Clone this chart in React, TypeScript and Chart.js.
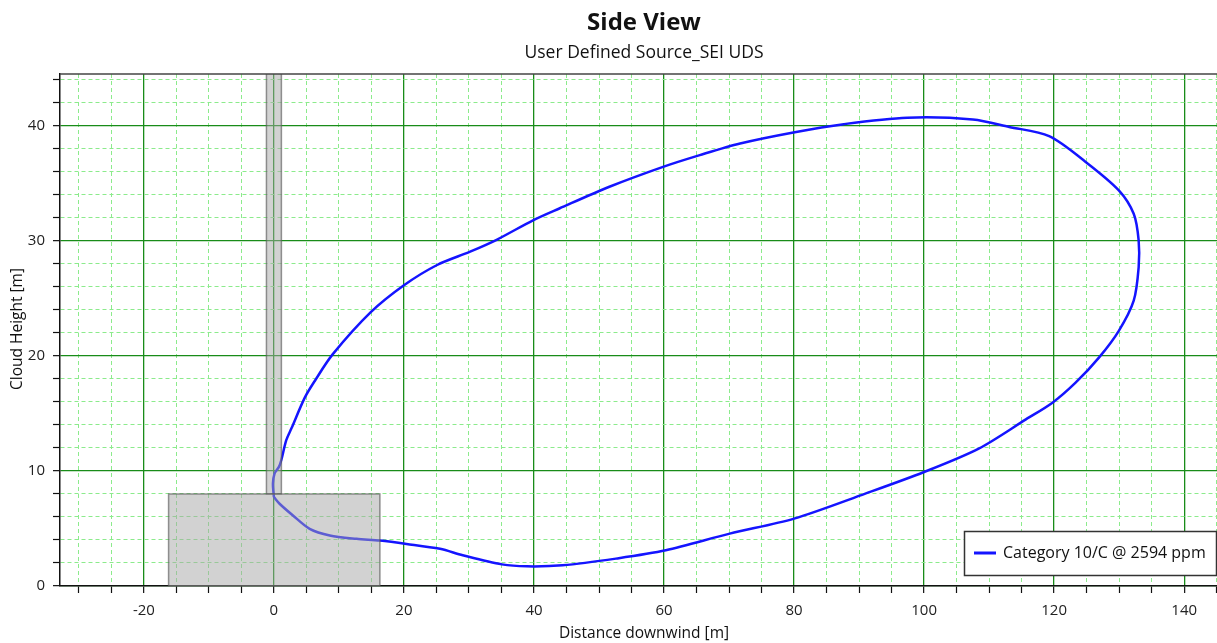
import React, { useEffect, useRef } from 'react';
import { Chart, registerables } from 'chart.js';

Chart.register(...registerables);

// ---- data ----
const plumeX = [
  0, 0.87, 2.93, 5.5, 8.59, 12.7, 16.3, 20.4, 25.55, 29.04, 35.07, 38.9, 44.38, 52.6, 60.27, 70.1, 80.0,
  90.96, 100, 108.4, 115.66, 119.74, 123.3, 126.89, 129.95, 132.24, 133.0, 133.0, 132.24, 129.95,
  124.85, 119.23, 113.1, 107.5, 97.4, 87.65, 79.9, 71.7, 65.5, 59.85, 51.6, 43.9, 39.85, 34.25, 30.18,
  25.1, 20, 14.9, 9.06, 6.26, 4.73, 2.7, 1.9, 1.13, 0.77, 0.1, -0.15, 0,
];
const plumeY = [
  7.73, 7.15, 6.13, 4.97, 4.39, 4.1, 3.95, 3.66, 3.23, 2.67, 1.88, 1.71, 1.8, 2.38, 3.1, 4.55, 5.86,
  8.03, 9.91, 11.94, 14.48, 15.93, 17.67, 19.85, 22.18, 24.8, 27.7, 30.03, 32.35, 34.39,
  36.86, 39.1, 39.9, 40.55, 40.7, 40.14, 39.42, 38.46, 37.45, 36.43, 34.7, 32.81, 31.78, 30.09, 29.06,
  27.9, 26.14, 23.8, 20.15, 17.8, 16.35, 13.7, 12.67, 10.93, 10.35, 9.77, 8.9, 7.73,
];
const stackX = [-1.15, 1.15];
const stackY = [8, 60];
const buildingX = [-16.2, 16.3];
const buildingY = [0, 8];
const xTickLabels = [-20, 0, 20, 40, 60, 80, 100, 120, 140];
const yTickLabels = [0, 10, 20, 30, 40];
const seriesLabel = 'Category 10/C @ 2594 ppm';
const chartTitle = 'Side View';
const chartSubtitle = 'User Defined Source_SEI UDS';
const xTitle = 'Distance downwind [m]';
const yTitle = 'Cloud Height [m]';

const FONT = '"Open Sans", "Noto Sans", sans-serif';
const MAJOR = 'rgb(25,140,25)';
const MINOR = 'rgb(140,235,140)';

export default function App() {
  const ref = useRef<HTMLCanvasElement | null>(null);

  useEffect(() => {
    document.body.style.margin = '0';
    document.body.style.background = '#fff';
    const canvas = ref.current;
    if (!canvas) return;

    const overlay = {
      id: 'overlay',
      afterDatasetsDraw(chart: any) {
        const { ctx, chartArea, scales } = chart;
        const x = scales.x;
        const y = scales.y;
        ctx.save();
        ctx.beginPath();
        ctx.rect(chartArea.left, chartArea.top, chartArea.right - chartArea.left, chartArea.bottom - chartArea.top);
        ctx.clip();
        const rects: [number[], number[]][] = [
          [stackX, stackY],
          [buildingX, buildingY],
        ];
        for (const [xs, ys] of rects) {
          const x0 = x.getPixelForValue(xs[0]);
          const x1 = x.getPixelForValue(xs[1]);
          const y0 = y.getPixelForValue(ys[1]);
          const y1 = y.getPixelForValue(ys[0]);
          ctx.fillStyle = 'rgba(165,165,165,0.5)';
          ctx.fillRect(x0, y0, x1 - x0, y1 - y0);
          ctx.strokeStyle = 'rgba(90,90,90,0.65)';
          ctx.lineWidth = 1.5;
          ctx.strokeRect(x0, y0, x1 - x0, y1 - y0);
        }
        ctx.restore();
        // top border
        ctx.save();
        ctx.strokeStyle = '#444';
        ctx.lineWidth = 1.5;
        ctx.beginPath();
        ctx.moveTo(chartArea.left, chartArea.top);
        ctx.lineTo(chartArea.right, chartArea.top);
        ctx.stroke();
        ctx.restore();
      },
      afterDraw(chart: any) {
        const { ctx } = chart;
        ctx.save();
        ctx.fillStyle = '#111';
        ctx.textAlign = 'center';
        ctx.textBaseline = 'middle';
        ctx.font = `bold 24px ${FONT}`;
        ctx.fillText(chartTitle, 644, 23);
        ctx.font = `17.5px ${FONT}`;
        ctx.fillText(chartSubtitle, 644, 53);
        ctx.font = `15.5px ${FONT}`;
        ctx.fillText(xTitle, 644, 634);
        ctx.save();
        ctx.translate(18, 329);
        ctx.rotate(-Math.PI / 2);
        ctx.fillText(yTitle, 0, 0);
        ctx.restore();

        // legend
        ctx.fillStyle = '#fff';
        ctx.fillRect(964.5, 531.5, 252, 44);
        ctx.strokeStyle = '#333';
        ctx.lineWidth = 1.5;
        ctx.strokeRect(964.5, 531.5, 252, 44);
        ctx.strokeStyle = 'rgb(20,20,255)';
        ctx.lineWidth = 3;
        ctx.beginPath();
        ctx.moveTo(974, 553);
        ctx.lineTo(996, 553);
        ctx.stroke();
        ctx.fillStyle = '#111';
        ctx.textAlign = 'left';
        ctx.font = `16px ${FONT}`;
        ctx.fillText(seriesLabel, 1003, 553);
        ctx.restore();
      },
    };

    const isMajorX = (v: number) => Math.abs(v % 20) < 1e-6;
    const isMajorY = (v: number) => Math.abs(v % 10) < 1e-6;

    const chart = new Chart(canvas, {
      type: 'scatter',
      data: {
        datasets: [
          {
            label: seriesLabel,
            data: plumeX.map((v, i) => ({ x: v, y: plumeY[i] })),
            showLine: true,
            borderColor: 'rgb(20,20,255)',
            borderWidth: 2.5,
            pointRadius: 0,
            tension: 0.3,
            fill: false,
          },
        ],
      },
      options: {
        responsive: false,
        animation: false,
        layout: { padding: { top: 74, left: 0, right: 0, bottom: 0 } },
        plugins: {
          legend: { display: false },
          title: { display: false },
          tooltip: { enabled: false },
        },
        scales: {
          x: {
            type: 'linear',
            min: -32.9,
            max: 145.05,
            afterFit: (s: any) => {
              s.height = 57;
              s.paddingLeft = 0;
              s.paddingRight = 0;
            },
            ticks: {
              stepSize: 5,
              autoSkip: false,
              maxRotation: 0,
              includeBounds: false,
              maxTicksLimit: 1000,
              padding: 9,
              color: '#222',
              font: { family: FONT, size: 15 },
              callback: (v: any) => (xTickLabels.includes(Number(v)) ? String(v) : ''),
            },
            grid: {
              color: (c: any) => (c.tick && isMajorX(c.tick.value) ? MAJOR : MINOR),
              lineWidth: (c: any) => (c.tick && isMajorX(c.tick.value) ? 1.3 : 1),
              tickColor: '#111',
              tickLength: 7,
              tickWidth: 1.2,
            },
            border: {
              display: true,
              color: '#111',
              width: 1.5,
              dash: (c: any) => (c.tick && !isMajorX(c.tick.value) ? [4, 3] : []),
            },
          },
          y: {
            type: 'linear',
            min: 0,
            max: 44.5,
            afterFit: (s: any) => {
              s.width = 60;
              s.paddingTop = 0;
              s.paddingBottom = 0;
            },
            ticks: {
              stepSize: 2,
              autoSkip: false,
              includeBounds: false,
              maxTicksLimit: 1000,
              padding: 8,
              color: '#222',
              font: { family: FONT, size: 15 },
              callback: (v: any) => (yTickLabels.includes(Number(v)) ? String(v) : ''),
            },
            grid: {
              color: (c: any) => (c.tick && isMajorY(c.tick.value) ? MAJOR : MINOR),
              lineWidth: (c: any) => (c.tick && isMajorY(c.tick.value) ? 1.3 : 1),
              tickColor: '#111',
              tickLength: 7,
              tickWidth: 1.2,
            },
            border: {
              display: true,
              color: '#111',
              width: 1.5,
              dash: (c: any) => (c.tick && !isMajorY(c.tick.value) ? [4, 3] : []),
            },
          },
        },
      },
      plugins: [overlay],
    } as any);

    return () => chart.destroy();
  }, []);

  return (
    <div style={{ width: 1217, height: 643 }}>
      <canvas ref={ref} width={1217} height={643} style={{ display: 'block' }} />
    </div>
  );
}
